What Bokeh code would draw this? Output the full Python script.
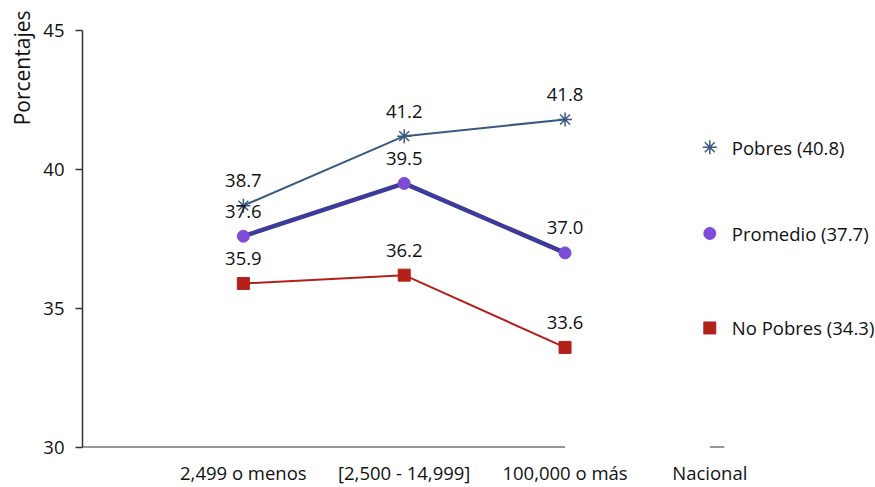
from bokeh.plotting import figure
from bokeh.models import FixedTicker, Range1d, Title
from bokeh.core.properties import value
from bokeh.embed import file_html
from bokeh.resources import INLINE

# ---- data ----
categories = ["2,499 o menos", "[2,500 - 14,999]", "100,000 o más"]
national_label = "Nacional"
pobres = [38.7, 41.2, 41.8]
promedio = [37.6, 39.5, 37.0]
no_pobres = [35.9, 36.2, 33.6]
series_names = ["Pobres", "Promedio", "No Pobres"]
national_values = [40.8, 37.7, 34.3]
y_ticks = [30, 35, 40, 45]

# ---- styling ----
FONT = "Open Sans"
FS = "18.5px"
TXT = "#111111"
c_pobres = "#385A82"
c_prom_line = "#3D3A9B"
c_prom_mark = "#7D4CD9"
c_nopob = "#B3201A"

xs = list(range(len(categories)))
nac_pos = 2.9
x_start = -1.0

p = figure(width=875, height=487, output_backend="svg", toolbar_location=None,
           x_range=Range1d(x_start, 3.93), y_range=Range1d(y_ticks[0], y_ticks[-1]),
           min_border_left=81, min_border_top=30, min_border_right=0, min_border_bottom=40)
p.outline_line_color = None
p.xgrid.grid_line_color = None
p.ygrid.grid_line_color = None

# y axis
p.yaxis.ticker = FixedTicker(ticks=y_ticks)
p.yaxis.axis_line_color = "#333333"
p.yaxis.axis_line_width = 1.5
p.yaxis.major_tick_line_color = "#333333"
p.yaxis.major_tick_line_width = 1.5
p.yaxis.major_tick_out = 7
p.yaxis.major_tick_in = 0
p.yaxis.minor_tick_line_color = None
p.yaxis.major_label_standoff = 11
p.yaxis.major_label_text_font = FONT
p.yaxis.major_label_text_font_size = FS
p.yaxis.major_label_text_color = TXT

# x axis (labels only)
tick_pos = xs + [nac_pos]
p.xaxis.ticker = FixedTicker(ticks=tick_pos)
overrides = {i: c for i, c in zip(xs, categories)}
overrides[nac_pos] = national_label
p.xaxis.major_label_overrides = overrides
p.xaxis.axis_line_color = None
p.xaxis.major_tick_line_color = None
p.xaxis.major_tick_out = 0
p.xaxis.major_tick_in = 0
p.xaxis.minor_tick_line_color = None
p.xaxis.minor_tick_out = 0
p.xaxis.major_label_standoff = 12
p.xaxis.major_label_text_font = FONT
p.xaxis.major_label_text_font_size = FS
p.xaxis.major_label_text_color = TXT

# x axis line segments
p.segment(x0=[x_start], y0=[y_ticks[0]], x1=[xs[-1]], y1=[y_ticks[0]],
          line_color="#333333", line_width=2)
p.segment(x0=[nac_pos], y0=[y_ticks[0]], x1=[nac_pos + 0.09], y1=[y_ticks[0]],
          line_color="#333333", line_width=2)

# series
p.line(xs, pobres, line_color=c_pobres, line_width=2)
p.scatter(xs, pobres, marker="asterisk", size=14, line_color=c_pobres, line_width=1.5)

p.line(xs, promedio, line_color=c_prom_line, line_width=4.5)
p.scatter(xs, promedio, marker="circle", size=12, fill_color=c_prom_mark, line_color=c_prom_mark)

p.line(xs, no_pobres, line_color=c_nopob, line_width=2)
p.scatter(xs, no_pobres, marker="square", size=12, fill_color=c_nopob, line_color=c_nopob)

# data labels
for vals in (pobres, promedio, no_pobres):
    p.text(xs, vals, text=[f"{v:.1f}" for v in vals], y_offset=-25,
           text_align="center", text_baseline="middle",
           text_font=value(FONT), text_font_size=FS, text_color=TXT)

# legend-like entries at "Nacional"
p.scatter([nac_pos], [national_values[0]], marker="asterisk", size=14,
          line_color=c_pobres, line_width=1.5)
p.scatter([nac_pos], [national_values[1]], marker="circle", size=12,
          fill_color=c_prom_mark, line_color=c_prom_mark)
p.scatter([nac_pos], [national_values[2]], marker="square", size=12,
          fill_color=c_nopob, line_color=c_nopob)
p.text([nac_pos] * 3, national_values,
       text=[f"{n} ({v:.1f})" for n, v in zip(series_names, national_values)],
       x_offset=22, text_align="left", text_baseline="middle",
       text_font=value(FONT), text_font_size=FS, text_color=TXT)

# y axis title
p.add_layout(Title(text="Porcentajes", align="right", text_font=FONT,
                   text_font_size="21px", text_font_style="normal",
                   text_color=TXT, offset=-20), "left")

open("out.html", "w").write(file_html(p, INLINE))
